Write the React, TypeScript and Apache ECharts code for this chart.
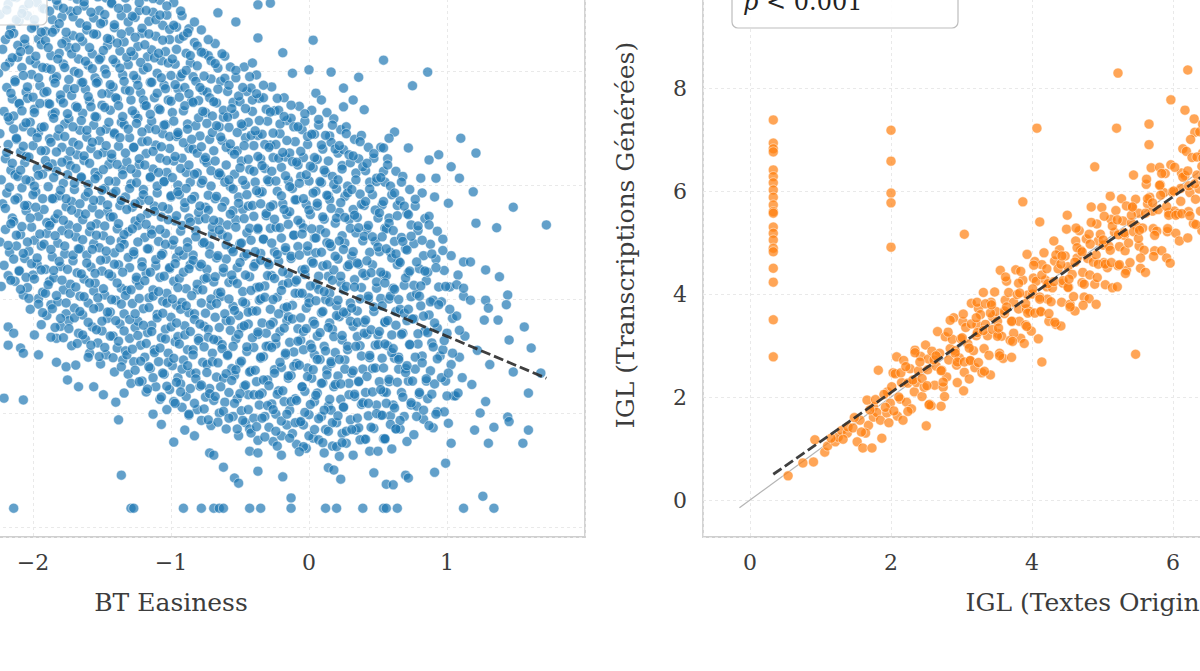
import { useEffect, useRef } from 'react'
import * as echarts from 'echarts'

// ─── Données : panneau gauche (BT Easiness → IGL des textes originaux) ───
// tableaux à plat : x, y, x, y ... (une ligne ≈ une tranche de 0.1 en x)
const BT_CORE_LEFT = [
  -2.23,9.38,-2.18,9.17,-2.24,8.99,-2.16,8.75,-2.2,8.55,-2.22,8.38,-2.17,8.15,-2.25,7.96,-2.19,7.71,-2.15,7.51,-2.21,7.29,-2.17,7.13,-2.24,6.9,-2.18,6.71,-2.2,6.46,-2.16,6.26,-2.23,6.09,-2.19,5.86,-2.22,5.67,-2.15,5.42,-2.2,5.22,-2.24,5.0,-2.17,4.82,-2.21,4.59,-2.18,4.41,-2.23,4.22,
  -2.12,9.29,-2.07,9.08,-2.1,8.88,-2.14,8.66,-2.06,8.47,-2.11,8.24,-2.08,8.06,-2.13,7.84,-2.05,7.63,-2.1,7.42,-2.14,7.21,-2.07,7.02,-2.12,6.8,-2.09,6.58,-2.06,6.39,-2.13,6.18,-2.08,5.95,-2.11,5.77,-2.05,5.55,-2.14,5.36,-2.09,5.13,-2.12,4.93,-2.06,4.71,-2.1,4.5,-2.13,4.31,-2.07,4.07,
  -2.02,9.4,-1.97,9.2,-2.04,8.97,-1.99,8.79,-1.96,8.56,-2.03,8.37,-1.98,8.13,-2.01,7.94,-1.95,7.74,-2.04,7.52,-1.99,7.33,-2.02,7.1,-1.96,6.92,-2.0,6.69,-2.05,6.5,-1.97,6.29,-2.02,6.07,-1.98,5.88,-2.04,5.64,-1.96,5.45,-2.01,5.26,-1.99,5.03,-2.03,4.84,-1.97,4.61,-2.0,4.42,-2.04,4.2,-1.96,4.01,-2.02,3.82,
  -1.88,9.31,-1.93,9.1,-1.86,8.9,-1.91,8.69,-1.94,8.46,-1.87,8.27,-1.9,8.05,-1.85,7.86,-1.92,7.62,-1.89,7.43,-1.86,7.24,-1.94,7.01,-1.88,6.81,-1.91,6.6,-1.86,6.37,-1.93,6.19,-1.89,5.97,-1.85,5.76,-1.92,5.57,-1.87,5.34,-1.9,5.15,-1.94,4.93,-1.86,4.74,-1.91,4.52,-1.88,4.31,-1.93,4.12,-1.87,3.9,-1.9,3.71,-1.94,3.55,
  -1.77,9.37,-1.82,9.15,-1.79,8.95,-1.84,8.73,-1.76,8.54,-1.81,8.31,-1.78,8.12,-1.83,7.9,-1.75,7.69,-1.8,7.5,-1.84,7.27,-1.77,7.07,-1.82,6.86,-1.79,6.66,-1.75,6.44,-1.83,6.24,-1.78,6.03,-1.81,5.81,-1.76,5.62,-1.84,5.41,-1.79,5.2,-1.82,4.98,-1.77,4.79,-1.8,4.57,-1.85,4.37,-1.78,4.16,-1.82,3.95,-1.76,3.74,-1.8,3.52,-1.83,3.31,
  -1.68,9.26,-1.73,9.05,-1.66,8.84,-1.71,8.62,-1.74,8.41,-1.67,8.21,-1.7,7.99,-1.65,7.79,-1.72,7.57,-1.69,7.38,-1.74,7.16,-1.66,6.96,-1.71,6.75,-1.68,6.53,-1.73,6.34,-1.65,6.12,-1.7,5.92,-1.72,5.71,-1.67,5.5,-1.74,5.3,-1.69,5.09,-1.66,4.88,-1.71,4.67,-1.68,4.46,-1.73,4.26,-1.66,4.05,-1.7,3.84,-1.74,3.62,-1.67,3.4,-1.72,3.18,
  -1.58,9.36,-1.63,9.14,-1.56,8.93,-1.61,8.72,-1.64,8.52,-1.57,8.3,-1.6,8.1,-1.55,7.88,-1.62,7.68,-1.59,7.47,-1.64,7.26,-1.56,7.05,-1.61,6.84,-1.58,6.64,-1.63,6.43,-1.55,6.22,-1.6,6.01,-1.62,5.8,-1.57,5.6,-1.64,5.39,-1.59,5.18,-1.56,4.97,-1.61,4.77,-1.58,4.56,-1.63,4.35,-1.56,4.14,-1.6,3.93,-1.64,3.72,-1.57,3.51,-1.62,3.29,-1.59,3.05,
  -1.47,9.28,-1.52,9.06,-1.49,8.86,-1.54,8.64,-1.46,8.45,-1.51,8.23,-1.48,8.03,-1.53,7.81,-1.45,7.61,-1.5,7.4,-1.54,7.19,-1.47,6.98,-1.52,6.78,-1.49,6.57,-1.45,6.36,-1.53,6.16,-1.48,5.94,-1.51,5.73,-1.46,5.53,-1.54,5.32,-1.49,5.11,-1.52,4.9,-1.47,4.7,-1.5,4.49,-1.55,4.28,-1.48,4.07,-1.52,3.86,-1.46,3.66,-1.5,3.44,-1.53,3.23,-1.47,3.02,-1.51,2.86,
  -1.38,9.39,-1.43,9.18,-1.36,8.97,-1.41,8.76,-1.44,8.55,-1.37,8.35,-1.4,8.14,-1.35,7.93,-1.42,7.72,-1.39,7.51,-1.44,7.31,-1.36,7.1,-1.41,6.89,-1.38,6.68,-1.43,6.47,-1.35,6.27,-1.4,6.06,-1.42,5.85,-1.37,5.64,-1.44,5.44,-1.39,5.23,-1.36,5.02,-1.41,4.81,-1.38,4.6,-1.43,4.4,-1.36,4.19,-1.4,3.98,-1.44,3.77,-1.37,3.56,-1.42,3.35,-1.39,3.14,-1.35,2.93,-1.41,2.72,
  -1.28,9.33,-1.32,9.1,-1.26,8.94,-1.3,8.7,-1.34,8.51,-1.27,8.27,-1.31,8.11,-1.25,7.86,-1.33,7.67,-1.29,7.49,-1.26,7.24,-1.34,7.06,-1.3,6.83,-1.27,6.66,-1.32,6.41,-1.25,6.2,-1.29,6.02,-1.33,5.79,-1.28,5.61,-1.26,5.37,-1.31,5.18,-1.34,4.96,-1.27,4.78,-1.3,4.55,-1.25,4.33,-1.32,4.15,-1.28,3.92,-1.34,3.74,-1.26,3.5,-1.3,3.31,-1.33,3.09,-1.27,2.9,-1.31,2.68,-1.29,2.52,
  -1.18,9.3,-1.23,9.06,-1.16,8.87,-1.21,8.66,-1.24,8.43,-1.17,8.25,-1.2,8.02,-1.15,7.8,-1.22,7.62,-1.19,7.4,-1.24,7.17,-1.16,6.99,-1.21,6.76,-1.18,6.55,-1.23,6.36,-1.15,6.13,-1.2,5.92,-1.22,5.72,-1.17,5.5,-1.24,5.29,-1.19,5.08,-1.16,4.88,-1.21,4.65,-1.18,4.45,-1.23,4.24,-1.16,4.02,-1.2,3.83,-1.24,3.61,-1.17,3.41,-1.22,3.19,-1.19,2.98,-1.15,2.78,-1.21,2.56,-1.18,2.37,
  -1.08,9.24,-1.13,9.03,-1.06,8.8,-1.11,8.61,-1.14,8.37,-1.07,8.18,-1.1,7.96,-1.05,7.75,-1.12,7.53,-1.09,7.34,-1.14,7.12,-1.06,6.9,-1.11,6.7,-1.08,6.47,-1.13,6.28,-1.05,6.06,-1.1,5.86,-1.12,5.63,-1.07,5.44,-1.14,5.21,-1.09,5.01,-1.06,4.8,-1.11,4.58,-1.08,4.38,-1.13,4.16,-1.06,3.96,-1.1,3.73,-1.14,3.54,-1.07,3.32,-1.12,3.11,-1.09,2.9,-1.05,2.68,-1.11,2.46,-1.08,2.24,
  -0.98,9.2,-1.03,8.98,-0.96,8.77,-1.01,8.55,-1.04,8.34,-0.97,8.12,-1.0,7.92,-0.95,7.69,-1.02,7.49,-0.99,7.27,-1.04,7.06,-0.96,6.85,-1.01,6.64,-0.98,6.42,-1.03,6.22,-0.95,6.0,-1.0,5.79,-1.02,5.58,-0.97,5.37,-1.04,5.15,-0.99,4.95,-0.96,4.73,-1.01,4.53,-0.98,4.31,-1.03,4.1,-0.96,3.89,-1.0,3.68,-1.04,3.47,-0.97,3.25,-1.02,3.05,-0.99,2.83,-0.95,2.62,-1.01,2.41,-0.98,2.2,-1.03,2.06,
]

const BT_CORE_MID = [
  -0.92,8.97,-0.87,8.74,-0.94,8.56,-0.89,8.31,-0.86,8.14,-0.93,7.9,-0.9,7.71,-0.85,7.47,-0.91,7.3,-0.88,7.07,-0.95,6.88,-0.87,6.64,-0.92,6.47,-0.89,6.22,-0.86,6.05,-0.94,5.83,-0.9,5.6,-0.87,5.42,-0.93,5.19,-0.88,5.0,-0.91,4.77,-0.86,4.6,-0.94,4.36,-0.89,4.18,-0.92,3.94,-0.87,3.76,-0.9,3.53,-0.95,3.34,-0.88,3.11,-0.91,2.93,-0.86,2.7,-0.93,2.51,-0.89,2.29,-0.92,2.1,-0.87,1.96,
  -0.78,8.72,-0.83,8.5,-0.76,8.31,-0.81,8.09,-0.84,7.9,-0.77,7.66,-0.8,7.48,-0.75,7.27,-0.82,7.04,-0.79,6.86,-0.84,6.63,-0.76,6.44,-0.81,6.21,-0.78,6.03,-0.83,5.8,-0.75,5.61,-0.8,5.39,-0.82,5.2,-0.77,4.98,-0.84,4.77,-0.79,4.57,-0.76,4.35,-0.81,4.16,-0.78,3.93,-0.83,3.74,-0.76,3.52,-0.8,3.31,-0.84,3.11,-0.77,2.89,-0.82,2.7,-0.79,2.47,-0.75,2.28,-0.81,2.06,-0.78,1.87,
  -0.68,8.48,-0.73,8.27,-0.66,8.05,-0.71,7.86,-0.74,7.63,-0.67,7.44,-0.7,7.21,-0.65,7.02,-0.72,6.8,-0.69,6.6,-0.74,6.39,-0.66,6.18,-0.71,5.98,-0.68,5.76,-0.73,5.56,-0.65,5.35,-0.7,5.14,-0.72,4.93,-0.67,4.72,-0.74,4.52,-0.69,4.3,-0.66,4.1,-0.71,3.89,-0.68,3.68,-0.73,3.47,-0.66,3.27,-0.7,3.05,-0.74,2.85,-0.67,2.63,-0.72,2.43,-0.69,2.22,-0.65,2.0,-0.71,1.78,
  -0.61,8.26,-0.57,8.07,-0.64,7.82,-0.59,7.64,-0.55,7.45,-0.62,7.19,-0.58,7.01,-0.63,6.78,-0.56,6.6,-0.6,6.35,-0.64,6.17,-0.57,5.97,-0.61,5.71,-0.55,5.55,-0.59,5.3,-0.63,5.13,-0.56,4.88,-0.6,4.7,-0.62,4.47,-0.58,4.29,-0.64,4.04,-0.55,3.87,-0.6,3.62,-0.57,3.45,-0.63,3.2,-0.59,3.03,-0.56,2.78,-0.62,2.61,-0.58,2.36,-0.61,2.19,-0.55,1.94,-0.6,1.72,
  -0.47,8.07,-0.53,7.88,-0.45,7.64,-0.5,7.46,-0.54,7.24,-0.48,7.03,-0.46,6.83,-0.52,6.6,-0.49,6.42,-0.54,6.19,-0.46,6.0,-0.51,5.79,-0.48,5.57,-0.53,5.39,-0.45,5.16,-0.5,4.97,-0.47,4.75,-0.52,4.55,-0.55,4.33,-0.48,4.13,-0.46,3.92,-0.51,3.71,-0.49,3.5,-0.53,3.3,-0.45,3.08,-0.5,2.88,-0.54,2.66,-0.47,2.47,-0.52,2.25,-0.49,2.04,-0.46,1.83,-0.51,1.6,
  -0.38,7.93,-0.42,7.7,-0.36,7.52,-0.41,7.29,-0.44,7.1,-0.37,6.87,-0.4,6.69,-0.35,6.46,-0.43,6.27,-0.39,6.05,-0.36,5.86,-0.44,5.63,-0.4,5.45,-0.37,5.22,-0.42,5.03,-0.35,4.8,-0.39,4.62,-0.43,4.39,-0.38,4.2,-0.36,3.98,-0.41,3.79,-0.44,3.56,-0.37,3.38,-0.4,3.15,-0.35,2.96,-0.42,2.74,-0.38,2.55,-0.44,2.32,-0.36,2.14,-0.4,1.91,-0.43,1.72,-0.37,1.52,
  -0.27,7.72,-0.33,7.53,-0.25,7.3,-0.3,7.12,-0.34,6.89,-0.28,6.7,-0.26,6.48,-0.32,6.29,-0.29,6.06,-0.34,5.88,-0.26,5.65,-0.31,5.46,-0.28,5.24,-0.33,5.05,-0.25,4.83,-0.3,4.64,-0.27,4.41,-0.32,4.23,-0.35,4.0,-0.28,3.82,-0.26,3.59,-0.31,3.4,-0.29,3.18,-0.33,2.99,-0.25,2.76,-0.3,2.58,-0.34,2.35,-0.27,2.16,-0.32,1.94,-0.29,1.75,-0.26,1.5,
  -0.18,7.53,-0.22,7.31,-0.16,7.13,-0.21,6.9,-0.24,6.71,-0.17,6.49,-0.2,6.31,-0.15,6.08,-0.23,5.89,-0.19,5.67,-0.16,5.48,-0.24,5.26,-0.2,5.07,-0.17,4.85,-0.22,4.66,-0.15,4.44,-0.19,4.25,-0.23,4.03,-0.18,3.84,-0.16,3.62,-0.21,3.43,-0.24,3.21,-0.17,3.02,-0.2,2.8,-0.15,2.61,-0.22,2.39,-0.18,2.2,-0.24,1.98,-0.16,1.79,-0.2,1.6,-0.23,1.42,
  -0.07,7.38,-0.13,7.17,-0.05,6.97,-0.1,6.76,-0.14,6.56,-0.08,6.35,-0.06,6.15,-0.12,5.94,-0.09,5.74,-0.14,5.53,-0.06,5.33,-0.11,5.12,-0.08,4.92,-0.13,4.71,-0.05,4.51,-0.1,4.3,-0.07,4.1,-0.12,3.89,-0.15,3.69,-0.08,3.48,-0.06,3.28,-0.11,3.07,-0.09,2.87,-0.13,2.66,-0.05,2.46,-0.1,2.25,-0.14,2.05,-0.07,1.84,-0.12,1.64,-0.09,1.45,
  0.02,7.31,-0.03,7.12,0.04,6.89,-0.01,6.71,-0.04,6.48,0.03,6.3,0.0,6.07,0.05,5.89,-0.02,5.66,0.01,5.48,-0.04,5.25,0.04,5.07,-0.01,4.84,0.02,4.66,-0.03,4.43,0.05,4.25,0.0,4.02,-0.02,3.84,0.03,3.61,-0.04,3.43,0.01,3.2,0.04,3.02,-0.01,2.79,0.02,2.61,-0.03,2.38,0.04,2.2,0.0,1.97,-0.04,1.79,0.03,1.56,-0.02,1.38,
]

const BT_CORE_RIGHT = [
  0.13,7.27,0.07,7.05,0.15,6.86,0.1,6.63,0.06,6.45,0.12,6.22,0.09,6.04,0.14,5.81,0.06,5.63,0.11,5.4,0.08,5.22,0.13,4.99,0.05,4.81,0.1,4.58,0.14,4.4,0.07,4.17,0.12,3.99,0.09,3.76,0.15,3.58,0.06,3.35,0.11,3.17,0.08,2.94,0.13,2.76,0.1,2.53,0.06,2.35,0.14,2.12,0.09,1.94,0.12,1.71,0.07,1.53,0.11,1.3,
  0.18,7.16,0.23,6.97,0.16,6.75,0.21,6.56,0.24,6.34,0.17,6.15,0.2,5.93,0.15,5.74,0.22,5.52,0.19,5.33,0.24,5.11,0.16,4.92,0.21,4.7,0.18,4.51,0.23,4.29,0.15,4.1,0.2,3.88,0.22,3.69,0.17,3.47,0.24,3.28,0.19,3.06,0.16,2.87,0.21,2.65,0.18,2.46,0.23,2.24,0.16,2.05,0.2,1.83,0.24,1.64,0.17,1.42,0.22,1.24,
  0.27,7.02,0.33,6.8,0.25,6.62,0.3,6.39,0.34,6.21,0.28,5.98,0.26,5.8,0.32,5.57,0.29,5.39,0.34,5.16,0.26,4.98,0.31,4.75,0.28,4.57,0.33,4.34,0.25,4.16,0.3,3.93,0.27,3.75,0.32,3.52,0.35,3.34,0.28,3.11,0.26,2.93,0.31,2.7,0.29,2.52,0.33,2.29,0.25,2.11,0.3,1.88,0.34,1.7,0.27,1.47,0.32,1.26,
  0.38,6.87,0.43,6.66,0.36,6.46,0.41,6.25,0.44,6.05,0.37,5.84,0.4,5.64,0.35,5.43,0.42,5.23,0.39,5.02,0.44,4.82,0.36,4.61,0.41,4.41,0.38,4.2,0.43,4.0,0.35,3.79,0.4,3.59,0.42,3.38,0.37,3.18,0.44,2.97,0.39,2.77,0.36,2.56,0.41,2.36,0.38,2.15,0.43,1.95,0.36,1.74,0.4,1.54,0.44,1.33,
  0.52,6.66,0.47,6.47,0.54,6.24,0.49,6.06,0.46,5.83,0.53,5.65,0.5,5.42,0.55,5.24,0.48,5.01,0.51,4.83,0.46,4.6,0.54,4.42,0.49,4.19,0.52,4.01,0.47,3.78,0.55,3.6,0.5,3.37,0.48,3.19,0.53,2.96,0.46,2.78,0.51,2.55,0.54,2.37,0.49,2.14,0.52,1.96,0.47,1.73,0.54,1.55,0.5,1.33,
  0.57,6.46,0.63,6.24,0.55,6.05,0.6,5.83,0.64,5.64,0.58,5.42,0.56,5.23,0.62,5.01,0.59,4.82,0.64,4.6,0.56,4.41,0.61,4.19,0.58,4.0,0.63,3.78,0.55,3.59,0.6,3.37,0.57,3.18,0.62,2.96,0.65,2.77,0.58,2.55,0.56,2.36,0.61,2.14,0.59,1.95,0.63,1.73,0.55,1.54,0.6,1.37,
  0.68,6.15,0.73,5.92,0.66,5.72,0.71,5.5,0.74,5.3,0.67,5.08,0.7,4.88,0.65,4.66,0.72,4.46,0.69,4.24,0.74,4.04,0.66,3.82,0.71,3.62,0.68,3.4,0.73,3.2,0.65,2.98,0.7,2.78,0.72,2.56,0.67,2.36,0.74,2.14,0.69,1.94,0.66,1.72,0.71,1.5,
  0.82,5.86,0.77,5.63,0.84,5.41,0.79,5.2,0.76,4.97,0.83,4.76,0.8,4.53,0.85,4.32,0.78,4.09,0.81,3.88,0.76,3.65,0.84,3.44,0.79,3.21,0.82,3.0,0.77,2.77,0.85,2.56,0.8,2.33,0.78,2.12,0.83,1.89,0.76,1.62,
  0.87,5.45,0.93,5.19,0.88,4.96,0.92,4.7,0.86,4.47,0.94,4.21,0.9,3.98,0.87,3.72,0.93,3.49,0.89,3.23,0.95,3.0,0.88,2.74,0.91,2.51,0.86,2.25,0.93,2.02,0.9,1.74,
  0.97,5.05,1.03,4.76,0.98,4.5,1.02,4.21,0.96,3.95,1.04,3.66,1.0,3.4,0.97,3.11,1.03,2.85,0.99,2.56,1.05,2.3,0.98,2.02,1.01,1.82,
  1.08,4.42,1.12,4.05,1.07,3.7,1.13,3.35,1.09,2.98,1.11,2.62,1.06,2.3,
  1.22,3.1,1.18,2.5,1.24,2.0,1.2,1.7,1.31,2.85,1.28,2.2,1.34,1.75,
]

// seconde passe, décalée d'une demi-tranche (le nuage est très serré)
const BT_FILL_LEFT = [
  -2.14,9.3,-2.19,9.07,-2.12,8.9,-2.17,8.64,-2.11,8.45,-2.15,8.23,-2.2,8.08,-2.13,7.81,-2.16,7.61,-2.1,7.43,-2.18,7.19,-2.14,6.98,-2.12,6.82,-2.19,6.57,-2.15,6.38,-2.11,6.15,-2.17,5.96,-2.13,5.74,-2.2,5.59,-2.16,5.32,-2.12,5.12,-2.18,4.94,-2.14,4.7,-2.1,4.49,-2.16,4.33,
  -2.03,9.18,-2.08,9.01,-2.01,8.75,-2.06,8.56,-2.09,8.34,-2.02,8.19,-2.07,7.92,-2.04,7.72,-2.0,7.54,-2.08,7.3,-2.05,7.09,-2.01,6.93,-2.07,6.68,-2.03,6.49,-2.09,6.26,-2.05,6.09,-2.0,5.83,-2.06,5.64,-2.02,5.42,-2.08,5.27,-2.04,5.0,-2.07,4.8,-2.01,4.62,-2.05,4.38,-2.09,4.17,-2.03,4.01,
  -1.97,9.35,-1.92,9.09,-1.99,8.9,-1.94,8.68,-1.91,8.53,-1.98,8.26,-1.93,8.06,-1.96,7.88,-1.9,7.64,-1.95,7.43,-1.99,7.27,-1.92,7.02,-1.97,6.83,-1.94,6.6,-1.91,6.43,-1.96,6.17,-1.99,5.98,-1.93,5.76,-1.98,5.61,-1.9,5.34,-1.95,5.14,-1.92,4.96,-1.97,4.72,-1.94,4.51,-1.99,4.35,-1.91,4.1,-1.96,3.91,-1.93,3.76,
  -1.83,9.24,-1.88,9.05,-1.81,8.83,-1.86,8.68,-1.89,8.41,-1.82,8.21,-1.87,8.03,-1.84,7.79,-1.8,7.58,-1.88,7.42,-1.85,7.17,-1.81,6.98,-1.87,6.75,-1.83,6.58,-1.89,6.32,-1.85,6.13,-1.8,5.91,-1.86,5.76,-1.82,5.49,-1.88,5.29,-1.84,5.11,-1.87,4.87,-1.81,4.66,-1.85,4.5,-1.89,4.25,-1.83,4.06,-1.86,3.83,-1.8,3.66,-1.84,3.5,
  -1.73,9.32,-1.78,9.1,-1.71,8.95,-1.76,8.68,-1.79,8.48,-1.72,8.3,-1.77,8.06,-1.74,7.85,-1.7,7.69,-1.78,7.44,-1.75,7.25,-1.71,7.02,-1.77,6.85,-1.73,6.59,-1.79,6.4,-1.75,6.18,-1.7,6.03,-1.76,5.76,-1.72,5.56,-1.78,5.38,-1.74,5.14,-1.77,4.93,-1.71,4.77,-1.75,4.52,-1.79,4.33,-1.73,4.1,-1.76,3.93,-1.7,3.67,-1.74,3.48,-1.78,3.32,
  -1.63,9.21,-1.68,9.06,-1.61,8.79,-1.66,8.59,-1.69,8.41,-1.62,8.17,-1.67,7.96,-1.64,7.8,-1.6,7.55,-1.68,7.36,-1.65,7.13,-1.61,6.96,-1.67,6.7,-1.63,6.51,-1.69,6.29,-1.65,6.14,-1.6,5.87,-1.66,5.67,-1.62,5.49,-1.68,5.25,-1.64,5.04,-1.67,4.88,-1.61,4.63,-1.65,4.44,-1.69,4.21,-1.63,4.04,-1.66,3.78,-1.6,3.59,-1.64,3.37,-1.68,3.22,
  -1.53,9.3,-1.58,9.03,-1.51,8.83,-1.56,8.65,-1.59,8.41,-1.52,8.2,-1.57,8.04,-1.54,7.79,-1.5,7.6,-1.58,7.37,-1.55,7.2,-1.51,6.94,-1.57,6.75,-1.53,6.53,-1.59,6.38,-1.55,6.11,-1.5,5.91,-1.56,5.73,-1.52,5.49,-1.58,5.28,-1.54,5.12,-1.57,4.87,-1.51,4.68,-1.55,4.45,-1.59,4.28,-1.53,4.02,-1.56,3.83,-1.5,3.61,-1.54,3.46,-1.58,3.19,-1.52,2.99,
  -1.43,9.19,-1.48,8.99,-1.41,8.81,-1.46,8.57,-1.49,8.36,-1.42,8.2,-1.47,7.95,-1.44,7.76,-1.4,7.53,-1.48,7.36,-1.45,7.1,-1.41,6.91,-1.47,6.69,-1.43,6.54,-1.49,6.27,-1.45,6.07,-1.4,5.89,-1.46,5.65,-1.42,5.44,-1.48,5.28,-1.44,5.03,-1.47,4.84,-1.41,4.61,-1.45,4.44,-1.49,4.18,-1.43,3.99,-1.46,3.77,-1.4,3.62,-1.44,3.35,-1.48,3.15,-1.42,2.97,
  -1.33,9.28,-1.38,9.1,-1.31,8.86,-1.36,8.65,-1.39,8.49,-1.32,8.24,-1.37,8.05,-1.34,7.82,-1.3,7.65,-1.38,7.39,-1.35,7.2,-1.31,6.98,-1.37,6.83,-1.33,6.56,-1.39,6.36,-1.35,6.18,-1.3,5.94,-1.36,5.73,-1.32,5.57,-1.38,5.32,-1.34,5.13,-1.37,4.9,-1.31,4.73,-1.35,4.47,-1.39,4.28,-1.33,4.06,-1.36,3.91,-1.3,3.64,-1.34,3.44,-1.38,3.26,-1.32,3.02,-1.36,2.81,
  -1.23,9.2,-1.28,8.96,-1.21,8.75,-1.26,8.59,-1.29,8.34,-1.22,8.15,-1.27,7.92,-1.24,7.75,-1.2,7.49,-1.28,7.3,-1.25,7.08,-1.21,6.93,-1.27,6.66,-1.23,6.46,-1.29,6.28,-1.25,6.04,-1.2,5.83,-1.26,5.67,-1.22,5.42,-1.28,5.23,-1.24,5.0,-1.27,4.83,-1.21,4.57,-1.25,4.38,-1.29,4.16,-1.23,4.01,-1.26,3.74,-1.2,3.54,-1.24,3.36,-1.28,3.12,-1.22,2.91,-1.26,2.75,-1.23,2.55,
  -1.13,9.27,-1.18,9.06,-1.11,8.9,-1.16,8.65,-1.19,8.46,-1.12,8.23,-1.17,8.06,-1.14,7.8,-1.1,7.61,-1.18,7.39,-1.15,7.24,-1.11,6.97,-1.17,6.77,-1.13,6.59,-1.19,6.35,-1.15,6.14,-1.1,5.98,-1.16,5.73,-1.12,5.54,-1.18,5.31,-1.14,5.14,-1.17,4.88,-1.11,4.69,-1.15,4.47,-1.19,4.32,-1.13,4.05,-1.16,3.85,-1.1,3.67,-1.14,3.43,-1.18,3.22,-1.12,3.06,-1.16,2.81,-1.13,2.62,-1.17,2.42,
  -1.03,9.14,-1.08,8.98,-1.01,8.73,-1.06,8.54,-1.09,8.31,-1.02,8.14,-1.07,7.88,-1.04,7.69,-1.0,7.47,-1.08,7.32,-1.05,7.05,-1.01,6.85,-1.07,6.67,-1.03,6.43,-1.09,6.22,-1.05,6.06,-1.0,5.81,-1.06,5.62,-1.02,5.39,-1.08,5.22,-1.04,4.96,-1.07,4.77,-1.01,4.55,-1.05,4.4,-1.09,4.13,-1.03,3.93,-1.06,3.75,-1.0,3.51,-1.04,3.3,-1.08,3.14,-1.02,2.89,-1.06,2.7,-1.03,2.47,-1.07,2.28,
]

const BT_FILL_MID = [
  -0.93,9.05,-0.98,8.8,-0.91,8.61,-0.96,8.38,-0.99,8.21,-0.92,7.95,-0.97,7.76,-0.94,7.54,-0.9,7.39,-0.98,7.12,-0.95,6.92,-0.91,6.74,-0.97,6.5,-0.93,6.29,-0.99,6.13,-0.95,5.88,-0.9,5.69,-0.96,5.46,-0.92,5.29,-0.98,5.03,-0.94,4.84,-0.97,4.62,-0.91,4.47,-0.95,4.2,-0.99,4.0,-0.93,3.82,-0.96,3.58,-0.9,3.37,-0.94,3.21,-0.98,2.96,-0.92,2.77,-0.96,2.54,-0.93,2.37,-0.97,2.17,
  -0.83,8.86,-0.88,8.67,-0.81,8.44,-0.86,8.27,-0.89,8.01,-0.82,7.82,-0.87,7.6,-0.84,7.45,-0.8,7.18,-0.88,6.98,-0.85,6.8,-0.81,6.56,-0.87,6.35,-0.83,6.19,-0.89,5.94,-0.85,5.75,-0.8,5.52,-0.86,5.35,-0.82,5.09,-0.88,4.9,-0.84,4.68,-0.87,4.53,-0.81,4.26,-0.85,4.06,-0.89,3.88,-0.83,3.64,-0.86,3.43,-0.8,3.27,-0.84,3.02,-0.88,2.83,-0.82,2.6,-0.86,2.43,-0.83,2.17,-0.87,1.98,
  -0.73,8.55,-0.78,8.33,-0.71,8.18,-0.76,7.91,-0.79,7.71,-0.72,7.53,-0.77,7.29,-0.74,7.08,-0.7,6.92,-0.78,6.67,-0.75,6.48,-0.71,6.25,-0.77,6.08,-0.73,5.82,-0.79,5.63,-0.75,5.41,-0.7,5.26,-0.76,4.99,-0.72,4.79,-0.78,4.61,-0.74,4.37,-0.77,4.16,-0.71,4.0,-0.75,3.75,-0.79,3.56,-0.73,3.33,-0.76,3.16,-0.7,2.9,-0.74,2.71,-0.78,2.49,-0.72,2.34,-0.76,2.07,-0.73,1.88,
  -0.63,8.3,-0.68,8.13,-0.61,7.87,-0.66,7.68,-0.69,7.46,-0.62,7.31,-0.67,7.04,-0.64,6.84,-0.6,6.66,-0.68,6.42,-0.65,6.21,-0.61,6.05,-0.67,5.8,-0.63,5.61,-0.69,5.38,-0.65,5.21,-0.6,4.95,-0.66,4.76,-0.62,4.54,-0.68,4.39,-0.64,4.12,-0.67,3.92,-0.61,3.74,-0.65,3.5,-0.69,3.29,-0.63,3.13,-0.66,2.88,-0.6,2.69,-0.64,2.46,-0.68,2.29,-0.62,2.03,-0.66,1.84,
  -0.53,8.01,-0.58,7.75,-0.51,7.56,-0.56,7.34,-0.59,7.19,-0.52,6.92,-0.57,6.72,-0.54,6.54,-0.5,6.3,-0.58,6.09,-0.55,5.93,-0.51,5.68,-0.57,5.49,-0.53,5.26,-0.59,5.09,-0.55,4.83,-0.5,4.64,-0.56,4.42,-0.52,4.27,-0.58,4.0,-0.54,3.8,-0.57,3.62,-0.51,3.38,-0.55,3.17,-0.59,3.01,-0.53,2.76,-0.56,2.57,-0.5,2.34,-0.54,2.17,-0.58,1.91,-0.52,1.72,
  -0.43,7.9,-0.48,7.71,-0.41,7.49,-0.46,7.34,-0.49,7.07,-0.42,6.87,-0.47,6.69,-0.44,6.45,-0.4,6.24,-0.48,6.08,-0.45,5.83,-0.41,5.64,-0.47,5.41,-0.43,5.24,-0.49,4.98,-0.45,4.79,-0.4,4.57,-0.46,4.42,-0.42,4.15,-0.48,3.95,-0.44,3.77,-0.47,3.53,-0.41,3.32,-0.45,3.16,-0.49,2.91,-0.43,2.72,-0.46,2.49,-0.4,2.32,-0.44,2.06,-0.48,1.87,-0.42,1.65,
  -0.33,7.75,-0.38,7.6,-0.31,7.33,-0.36,7.13,-0.39,6.95,-0.32,6.71,-0.37,6.5,-0.34,6.34,-0.3,6.09,-0.38,5.9,-0.35,5.67,-0.31,5.5,-0.37,5.24,-0.33,5.05,-0.39,4.83,-0.35,4.68,-0.3,4.41,-0.36,4.21,-0.32,4.03,-0.38,3.79,-0.34,3.58,-0.37,3.42,-0.31,3.17,-0.35,2.98,-0.39,2.75,-0.33,2.58,-0.36,2.32,-0.3,2.13,-0.34,1.91,-0.38,1.76,-0.32,1.58,
  -0.23,7.52,-0.28,7.28,-0.21,7.07,-0.26,6.91,-0.29,6.66,-0.22,6.47,-0.27,6.24,-0.24,6.07,-0.2,5.81,-0.28,5.62,-0.25,5.4,-0.21,5.25,-0.27,4.98,-0.23,4.78,-0.29,4.6,-0.25,4.36,-0.2,4.15,-0.26,3.99,-0.22,3.74,-0.28,3.55,-0.24,3.32,-0.27,3.15,-0.21,2.89,-0.25,2.7,-0.29,2.48,-0.23,2.33,-0.26,2.06,-0.2,1.86,-0.24,1.68,
  -0.13,7.4,-0.18,7.2,-0.11,7.02,-0.16,6.78,-0.19,6.57,-0.12,6.41,-0.17,6.16,-0.14,5.97,-0.1,5.74,-0.18,5.57,-0.15,5.31,-0.11,5.12,-0.17,4.9,-0.13,4.75,-0.19,4.48,-0.15,4.28,-0.1,4.1,-0.16,3.86,-0.12,3.65,-0.18,3.49,-0.14,3.24,-0.17,3.05,-0.11,2.82,-0.15,2.65,-0.19,2.39,-0.13,2.2,-0.16,1.98,-0.1,1.83,-0.14,1.56,
  -0.03,7.25,-0.08,7.02,-0.01,6.85,-0.06,6.59,-0.09,6.4,-0.02,6.18,-0.07,6.03,-0.04,5.76,0.0,5.56,-0.08,5.38,-0.05,5.14,-0.01,4.93,-0.07,4.77,-0.03,4.52,-0.09,4.33,-0.05,4.1,0.0,3.93,-0.06,3.67,-0.02,3.48,-0.08,3.26,-0.04,3.11,-0.07,2.84,-0.01,2.64,-0.05,2.46,-0.09,2.22,-0.03,2.01,-0.06,1.85,0.0,1.6,-0.04,1.41,
]

const BT_FILL_RIGHT = [
  0.07,7.15,0.02,6.89,0.09,6.7,0.04,6.48,0.01,6.33,0.08,6.06,0.03,5.86,0.06,5.68,0.1,5.44,0.02,5.23,0.05,5.07,0.09,4.82,0.03,4.63,0.07,4.4,0.01,4.23,0.05,3.97,0.1,3.78,0.04,3.56,0.08,3.41,0.02,3.14,0.06,2.94,0.03,2.76,0.09,2.52,0.05,2.31,0.01,2.15,0.07,1.9,0.04,1.71,0.1,1.48,
  0.17,7.05,0.12,6.87,0.19,6.63,0.14,6.42,0.11,6.26,0.18,6.01,0.13,5.82,0.16,5.59,0.2,5.42,0.12,5.16,0.15,4.97,0.19,4.75,0.13,4.6,0.17,4.33,0.11,4.13,0.15,3.95,0.2,3.71,0.14,3.5,0.18,3.34,0.12,3.09,0.16,2.9,0.13,2.67,0.19,2.5,0.15,2.24,0.11,2.05,0.17,1.83,0.14,1.68,0.2,1.41,
  0.27,6.9,0.22,6.69,0.29,6.53,0.24,6.28,0.21,6.09,0.28,5.86,0.23,5.69,0.26,5.43,0.3,5.24,0.22,5.02,0.25,4.87,0.29,4.6,0.23,4.4,0.27,4.22,0.21,3.98,0.25,3.77,0.3,3.61,0.24,3.36,0.28,3.17,0.22,2.94,0.26,2.77,0.23,2.51,0.29,2.32,0.25,2.1,0.21,1.95,0.27,1.68,0.24,1.48,
  0.37,6.76,0.32,6.51,0.39,6.32,0.34,6.09,0.31,5.92,0.38,5.66,0.33,5.47,0.36,5.25,0.4,5.1,0.32,4.83,0.35,4.63,0.39,4.45,0.33,4.21,0.37,4.0,0.31,3.84,0.35,3.59,0.4,3.4,0.34,3.17,0.38,3.0,0.32,2.74,0.36,2.55,0.33,2.33,0.39,2.18,0.35,1.91,0.31,1.71,0.37,1.53,
  0.47,6.55,0.42,6.38,0.49,6.12,0.44,5.93,0.41,5.71,0.48,5.56,0.43,5.29,0.46,5.09,0.5,4.91,0.42,4.67,0.45,4.46,0.49,4.3,0.43,4.05,0.47,3.86,0.41,3.63,0.45,3.46,0.5,3.2,0.44,3.01,0.48,2.79,0.42,2.64,0.46,2.37,0.43,2.17,0.49,1.99,0.45,1.75,0.41,1.54,
  0.57,6.35,0.52,6.13,0.59,5.98,0.54,5.71,0.51,5.51,0.58,5.33,0.53,5.09,0.56,4.88,0.6,4.72,0.52,4.47,0.55,4.28,0.59,4.05,0.53,3.88,0.57,3.62,0.51,3.43,0.55,3.21,0.6,3.06,0.54,2.79,0.58,2.59,0.52,2.41,0.56,2.17,0.53,1.96,0.59,1.8,0.55,1.55,
  0.67,6.05,0.62,5.86,0.69,5.63,0.64,5.46,0.61,5.2,0.68,5.01,0.63,4.79,0.66,4.64,0.7,4.37,0.62,4.17,0.65,3.99,0.69,3.75,0.63,3.54,0.67,3.38,0.61,3.13,0.65,2.94,0.7,2.71,0.64,2.54,0.68,2.28,0.62,2.09,0.66,1.87,0.63,1.72,
  0.77,5.75,0.72,5.48,0.79,5.28,0.74,5.1,0.71,4.86,0.78,4.65,0.73,4.49,0.76,4.24,0.8,4.05,0.72,3.82,0.75,3.65,0.79,3.39,0.73,3.2,0.77,2.98,0.71,2.83,0.75,2.56,0.8,2.36,0.74,2.18,0.78,1.94,
  0.87,5.3,0.82,5.03,0.89,4.79,0.84,4.49,0.81,4.23,0.88,3.95,0.83,3.7,0.86,3.41,0.9,3.16,0.82,2.88,0.85,2.6,0.89,2.33,0.83,2.05,0.87,1.78,
  0.97,4.85,0.92,4.55,0.99,4.22,0.94,3.9,0.91,3.58,0.98,3.27,0.93,2.95,0.96,2.62,1.0,2.3,0.92,1.98,
  1.07,4.25,1.02,3.82,1.09,3.45,1.04,3.05,1.01,2.7,1.08,2.35,
]

// points isolés autour du nuage
const BT_SPARSE = [
  -0.37,9.16,-0.28,9.19,-0.53,8.86,-0.66,9.02,-0.37,8.58,-0.41,8.14,-0.19,8.32,-0.12,7.96,
  0.03,8.54,0.54,8.19,0.86,7.98,0.75,7.74,0.0,8.02,0.16,7.98,0.36,7.89,0.25,7.7,0.05,7.61,0.09,7.49,0.32,7.49,0.25,7.37,0.4,7.32,
  0.62,6.93,0.58,6.82,0.72,6.65,0.54,6.65,1.1,6.82,1.21,6.56,0.94,6.53,0.87,6.44,1.03,6.32,1.09,6.12,0.81,6.12,0.92,6.12,1.19,5.88,1.48,5.61,0.91,5.79,1.01,5.68,
  1.72,5.3,1.36,5.25,1.21,5.33,1.12,4.65,1.17,4.65,1.28,4.51,1.38,4.39,1.12,4.19,1.17,3.98,1.28,3.98,1.44,4.07,1.43,3.9,1.3,3.84,1.27,3.63,1.37,3.63,1.56,3.51,1.45,3.28,1.61,3.14,1.48,2.72,1.68,2.7,1.59,2.35,1.44,1.93,1.45,1.85,1.59,1.7,
  0.14,1.04,0.18,1.0,0.23,0.84,0.47,0.95,0.56,0.75,0.61,0.74,0.7,0.91,0.72,0.86,0.91,0.96,0.99,1.12,1.03,1.47,1.3,1.47,1.55,1.47,1.26,0.54,
  -0.98,1.49,-1.36,0.91,-0.72,1.3,-0.69,1.26,-0.62,1.05,-0.54,0.86,-0.51,0.77,-0.43,1.33,-0.37,1.3,-0.37,0.98,-0.2,1.26,-0.19,0.88,-0.13,0.51,-0.07,1.32,
  -2.18,3.51,-2.14,3.4,-2.18,3.19,-2.09,3.14,-2.07,3.05,-1.96,3.02,-1.99,3.37,-1.87,3.33,-2.21,2.26,-2.07,2.23,-1.75,2.58,-1.67,2.46,-1.56,2.46,-1.49,2.32,-1.4,2.19,-1.34,2.35,-1.38,1.88,-1.83,2.89,-1.76,2.81,-1.69,2.84,-1.6,2.98,
  -1.13,1.98,-1.07,1.8,-0.9,1.7,-0.83,1.6,
]

// rangée du bas : IGL minimal
const BT_FLOOR_Y = 0.33
const BT_FLOOR_X = [-2.14, -1.29, -1.27, -0.91, -0.78, -0.69, -0.65, -0.62, -0.43, -0.35, -0.13, 0.12, 0.2, 0.39, 0.54, 0.56, 0.64, 1.12, 1.34]

// droite de régression (pointillés)
const BT_FIT = [[-3.8, 8.25], [1.72, 2.61]]

// ─── Données : panneau droit (IGL originaux → IGL transcriptions) ───
const IGL_COL_MIN_X = 0.33
const IGL_COL_MIN_Y = [7.38, 6.93, 6.82, 6.76, 6.41, 6.28, 6.16, 6.02, 5.88, 5.73, 5.6, 5.57, 5.3, 5.18, 5.05, 4.89, 4.82, 4.5, 4.23, 3.5, 2.78]
const IGL_COL_TWO_X = 2.0
const IGL_COL_TWO_Y = [7.18, 6.58, 5.96, 5.77, 4.91]

const IGL_BAND = [
  0.54,0.47,0.75,0.72,0.9,0.74,0.92,1.17,1.06,0.93,1.1,1.05,1.21,1.13,1.25,1.22,1.3,1.35,1.38,1.3,1.39,1.42,1.46,1.4,1.52,1.13,1.56,1.55,1.6,1.01,1.68,1.45,1.73,1.01,1.75,1.61,1.75,1.81,1.66,1.94,1.8,1.7,1.85,1.55,1.87,1.2,1.94,1.69,1.97,1.5,1.95,2.1,1.99,1.88,1.82,2.52,2.03,2.47,2.08,2.78,
  2.06,2.45,2.13,1.96,2.09,1.63,2.15,2.28,2.18,2.71,2.22,1.9,2.24,2.27,2.17,1.55,
  2.27,2.55,2.33,2.1,2.29,1.77,2.34,2.91,2.36,2.28,2.42,2.79,2.44,2.01,2.39,2.51,2.5,1.44,
  2.47,2.19,2.53,2.74,2.55,1.86,2.49,3.01,2.52,2.53,2.58,2.89,2.62,2.23,2.64,2.6,2.57,1.83,
  2.66,3.27,2.72,2.52,2.69,2.85,2.74,2.19,2.71,1.82,2.77,3.17,2.82,2.72,2.79,2.39,2.84,2.94,2.76,2.01,
  2.87,3.12,2.93,2.62,2.89,3.54,2.94,2.28,2.91,2.9,2.97,2.76,3.02,3.46,3.04,2.48,2.99,3.13,3.03,2.12,
  3.06,3.35,3.12,2.7,3.09,3.03,3.14,3.82,3.11,2.35,3.17,2.9,3.22,3.4,3.19,2.57,3.24,3.72,3.21,3.19,3.22,3.84,
  3.27,3.6,3.32,2.94,3.29,2.47,3.34,3.41,3.31,4.03,3.37,3.19,3.42,3.84,3.39,2.81,3.44,3.56,3.41,2.43,
  3.47,4.04,3.52,3.23,3.49,3.66,3.54,2.85,3.51,3.47,3.55,4.46,3.57,3.18,3.62,3.88,3.59,2.75,3.64,4.25,3.61,3.62,
  3.67,4.03,3.72,3.47,3.69,3.1,3.74,3.84,3.71,2.77,3.77,4.47,3.82,3.47,3.79,3.99,3.84,3.14,3.81,3.71,
  3.87,4.27,3.92,3.71,3.89,3.04,3.94,3.98,3.91,3.4,3.93,4.77,3.97,3.66,4.02,4.31,3.99,3.28,4.04,4.63,4.01,4.0,
  4.06,4.25,4.12,3.65,4.09,3.13,4.14,4.57,4.11,3.94,4.17,4.8,4.22,3.9,4.19,4.27,4.24,3.47,4.21,4.14,
  4.27,3.85,4.32,4.64,4.29,4.12,4.34,3.41,4.31,5.03,4.37,4.49,4.42,3.84,4.39,4.86,4.44,4.21,4.41,3.38,
  4.47,4.74,4.52,4.13,4.49,5.26,4.54,3.8,4.51,4.53,4.5,5.53,4.57,4.38,4.62,5.03,4.59,3.95,4.64,4.7,4.61,3.67,
  4.67,5.23,4.72,4.42,4.69,4.85,4.74,3.94,4.71,4.22,4.77,5.07,4.82,4.37,4.79,4.69,4.84,5.69,4.81,3.91,
  4.87,4.62,4.92,5.36,4.89,4.19,4.94,5.03,4.91,3.8,4.97,5.16,5.02,4.61,4.99,5.68,5.04,4.18,5.01,4.95,
  5.07,4.51,5.12,5.45,5.09,4.93,5.14,4.12,5.11,5.9,5.17,5.2,5.22,4.55,5.19,5.62,5.24,4.92,5.21,4.14,
  5.27,5.85,5.32,4.84,5.29,5.42,5.34,4.46,5.31,5.14,5.37,4.99,5.42,5.69,5.39,4.61,5.44,6.31,5.41,5.38,
  5.47,5.84,5.52,4.93,5.49,5.31,5.54,4.5,5.51,5.57,5.57,5.28,5.62,6.13,5.59,4.85,5.64,5.75,5.61,4.42,
  5.67,5.88,5.72,5.27,5.69,6.45,5.74,4.84,5.71,5.61,5.77,5.22,5.82,6.12,5.79,5.64,5.84,4.84,5.81,6.46,
  5.87,5.97,5.92,5.21,5.89,6.34,5.94,5.58,5.91,4.7,5.97,6.51,6.02,5.61,5.99,5.98,6.04,5.18,5.96,4.6,
  6.07,5.56,6.12,6.35,6.09,5.03,6.14,6.82,6.11,6.05,6.17,6.3,6.22,5.6,6.19,6.77,6.24,5.97,6.21,5.09,
  6.27,6.65,6.32,5.84,6.29,5.37,6.34,6.31,6.31,7.14,6.37,6.04,6.42,6.74,6.39,5.61,6.44,6.33,6.41,5.23,
  6.47,6.64,6.52,5.98,6.49,7.16,6.54,5.55,6.58,6.54,6.63,5.99,6.61,7.07,
  6.3,7.4,6.38,7.15,6.25,7.0,6.17,7.57,6.42,7.3,
]

// seconde passe le long de la bande
const IGL_BAND_FILL = [
  1.15,1.2,1.32,1.18,1.48,1.6,1.64,1.3,1.78,1.95,1.9,2.05,1.92,1.8,1.7,1.75,1.58,1.32,
  2.01,2.2,2.04,1.73,2.11,2.0,2.14,2.47,2.21,2.59,2.24,1.72,2.31,2.33,2.34,2.86,2.41,2.68,2.44,2.36,2.51,2.22,2.54,1.85,2.61,2.72,2.64,2.8,2.71,2.51,2.74,2.29,2.81,3.26,2.84,3.49,2.91,2.85,2.94,2.68,
  3.01,3.15,3.04,2.68,3.025,3.61,3.11,2.95,3.14,3.42,3.125,2.71,3.21,3.54,3.24,2.67,3.225,3.25,3.31,3.29,3.34,3.81,3.325,2.5,3.41,3.63,3.44,3.31,3.425,3.79,3.51,3.18,3.54,2.8,3.525,3.34,3.61,3.67,3.64,3.75,3.625,4.33,3.71,3.47,3.74,3.24,3.725,3.08,3.81,4.21,3.84,4.44,3.825,4.02,3.91,3.81,3.94,3.63,3.925,3.37,
  4.01,4.1,4.04,3.63,4.025,4.56,4.11,3.9,4.14,4.37,4.125,3.66,4.21,4.49,4.24,3.62,4.225,4.2,4.31,4.24,4.34,4.76,4.325,3.45,4.41,4.58,4.44,4.26,4.425,4.74,4.51,4.13,4.54,3.75,4.525,4.29,4.61,4.62,4.64,4.9,4.625,5.28,4.71,4.82,4.74,4.19,4.725,3.78,4.81,5.16,4.84,5.39,4.825,4.97,4.91,4.76,4.94,4.58,4.925,4.32,
  5.01,5.05,5.04,4.58,5.025,5.51,5.11,4.85,5.14,5.32,5.125,4.61,5.21,5.44,5.24,4.57,5.225,5.15,5.31,5.19,5.34,5.71,5.325,4.4,5.41,5.53,5.44,5.21,5.425,5.69,5.51,5.08,5.54,4.7,5.525,5.24,5.61,5.57,5.64,5.85,5.625,6.23,5.71,5.77,5.74,5.14,5.725,4.73,5.81,6.11,5.84,6.34,5.825,5.92,5.91,5.7,5.94,5.53,5.925,5.27,
  6.01,6.0,6.04,5.53,6.025,6.46,6.11,5.8,6.14,6.27,6.125,5.56,6.21,6.39,6.24,5.52,6.225,6.1,6.31,6.14,6.34,6.66,6.325,5.35,6.41,6.48,6.44,6.16,6.425,6.64,6.51,6.03,6.54,5.65,6.525,6.19,6.61,6.52,6.64,6.8,
]

const IGL_OUTLIERS = [
  3.04,5.16,3.87,5.79,4.07,7.22,4.11,5.4,4.14,2.68,4.89,6.47,5.22,8.29,5.2,7.22,5.66,7.3,5.66,6.9,5.97,7.77,6.21,8.35,5.47,2.83,
]

const IGL_FIT = [[0.33, 0.5], [9.6, 9.31]]
const IGL_DIAG = [[-0.15, -0.15], [10.5, 10.5]]

// ─── Mise en page (la figure dépasse la fenêtre, comme le recadrage d'origine) ───
const OFF_X = -260
const OFF_Y = -80
const FONT = "'DejaVu Serif', 'Liberation Serif', serif"
const INK = '#3c3c3c'

function toPairs(flat: number[]) {
  const out: number[][] = []
  for (let i = 0; i + 1 < flat.length; i += 2) out.push([flat[i], flat[i + 1]])
  return out
}

const tickFmt = (v: number) => {
  if (Math.abs(v - Math.round(v)) > 1e-6) return ''
  return v < 0 ? '\u2212' + Math.abs(v) : String(v)
}

const baseAxis = {
  type: 'value' as const,
  axisLine: { show: false },
  axisTick: { show: false },
  splitLine: { show: true, lineStyle: { color: '#e9e9e9', width: 1, type: [3, 3] } },
  nameLocation: 'middle' as const,
  nameTextStyle: { fontFamily: FONT, fontSize: 25, color: INK },
}

const labelStyle = {
  fontFamily: FONT, fontSize: 22, color: INK,
  formatter: tickFmt, showMinLabel: false, showMaxLabel: false,
}

export default function App() {
  const ref = useRef<HTMLDivElement>(null)

  useEffect(() => {
    if (!ref.current) return
    const chart = echarts.init(ref.current, null, { renderer: 'svg' })

    const btPoints = [
      ...toPairs(BT_CORE_LEFT), ...toPairs(BT_FILL_LEFT),
      ...toPairs(BT_CORE_MID), ...toPairs(BT_FILL_MID),
      ...toPairs(BT_CORE_RIGHT), ...toPairs(BT_FILL_RIGHT),
      ...toPairs(BT_SPARSE), ...BT_FLOOR_X.map(x => [x, BT_FLOOR_Y]),
    ]
    const iglPoints = [
      ...IGL_COL_MIN_Y.map(y => [IGL_COL_MIN_X, y]),
      ...IGL_COL_TWO_Y.map(y => [IGL_COL_TWO_X, y]),
      ...toPairs(IGL_BAND), ...toPairs(IGL_BAND_FILL), ...toPairs(IGL_OUTLIERS),
    ]

    const gridBox = { show: true, borderColor: '#cfcfcf', borderWidth: 1.8, backgroundColor: 'rgba(0,0,0,0)' }

    chart.setOption({
      animation: false,
      textStyle: { fontFamily: FONT },
      grid: [
        { left: 17, top: 13, width: 828, height: 604, ...gridBox },
        { left: 963, top: 13, width: 814, height: 604, ...gridBox },
      ],
      xAxis: [
        {
          ...baseAxis, gridIndex: 0, min: -4, max: 2, interval: 1,
          name: 'BT Easiness', nameGap: 53,
          axisLabel: { ...labelStyle, margin: 14 },
        },
        {
          ...baseAxis, gridIndex: 1, min: -0.667, max: 10.88, splitNumber: 5,
          name: 'IGL (Textes Originaux)', nameGap: 53,
          axisLabel: { ...labelStyle, margin: 14 },
        },
      ],
      yAxis: [
        {
          ...baseAxis, gridIndex: 0, min: -0.175, max: 10.42, splitNumber: 5,
          axisLabel: { show: false },
        },
        {
          ...baseAxis, gridIndex: 1, min: -0.718, max: 11.01, splitNumber: 5,
          name: 'IGL (Transcriptions Générées)', nameGap: 65,
          axisLabel: { ...labelStyle, margin: 16 },
        },
      ],
      series: [
        {
          type: 'scatter', xAxisIndex: 0, yAxisIndex: 0, data: btPoints,
          symbolSize: 10, silent: true, z: 2, large: false,
          itemStyle: { color: '#1f77b4', opacity: 0.7, borderColor: '#ffffff', borderWidth: 0.7 },
        },
        {
          type: 'line', xAxisIndex: 0, yAxisIndex: 0, data: BT_FIT,
          symbol: 'none', silent: true, z: 4,
          lineStyle: { color: '#2a2a2a', width: 2.8, type: [10, 4], opacity: 0.9 },
        },
        {
          type: 'line', xAxisIndex: 1, yAxisIndex: 1, data: IGL_DIAG,
          symbol: 'none', silent: true, z: 1,
          lineStyle: { color: '#b5b5b5', width: 1.2 },
        },
        {
          type: 'scatter', xAxisIndex: 1, yAxisIndex: 1, data: iglPoints,
          symbolSize: 10, silent: true, z: 2, large: false,
          itemStyle: { color: '#ff7f0e', opacity: 0.7, borderColor: '#ffffff', borderWidth: 0.7 },
        },
        {
          type: 'line', xAxisIndex: 1, yAxisIndex: 1, data: IGL_FIT,
          symbol: 'none', silent: true, z: 4,
          lineStyle: { color: '#2a2a2a', width: 2.8, type: [10, 4], opacity: 0.9 },
        },
      ],
      graphic: [
        {
          type: 'rect', z: 20, silent: true,
          shape: { x: 60, y: 15, width: 247, height: 90, r: 6 },
          style: { fill: 'rgba(255,255,255,0.82)', stroke: '#cccccc', lineWidth: 1.2 },
        },
        {
          type: 'rect', z: 20, silent: true,
          shape: { x: 992, y: 25, width: 226, height: 83, r: 6 },
          style: { fill: 'rgba(255,255,255,0.9)', stroke: '#bdbdbd', lineWidth: 1.2 },
        },
        {
          type: 'text', z: 21, silent: true, x: 1003, y: 82,
          style: {
            text: '{i|p} < 0.001',
            fontFamily: FONT, fontSize: 24, fill: '#222222',
            verticalAlign: 'middle', align: 'left',
            rich: { i: { fontFamily: FONT, fontSize: 24, fontStyle: 'italic', fill: '#222222' } },
          },
        },
      ],
    })

    return () => chart.dispose()
  }, [])

  return (
    <div style={{ position: 'fixed', left: 0, top: 0, width: 1200, height: 671, overflow: 'hidden', background: '#ffffff' }}>
      <div ref={ref} style={{ position: 'absolute', left: OFF_X, top: OFF_Y, width: 1800, height: 760 }} />
    </div>
  )
}
